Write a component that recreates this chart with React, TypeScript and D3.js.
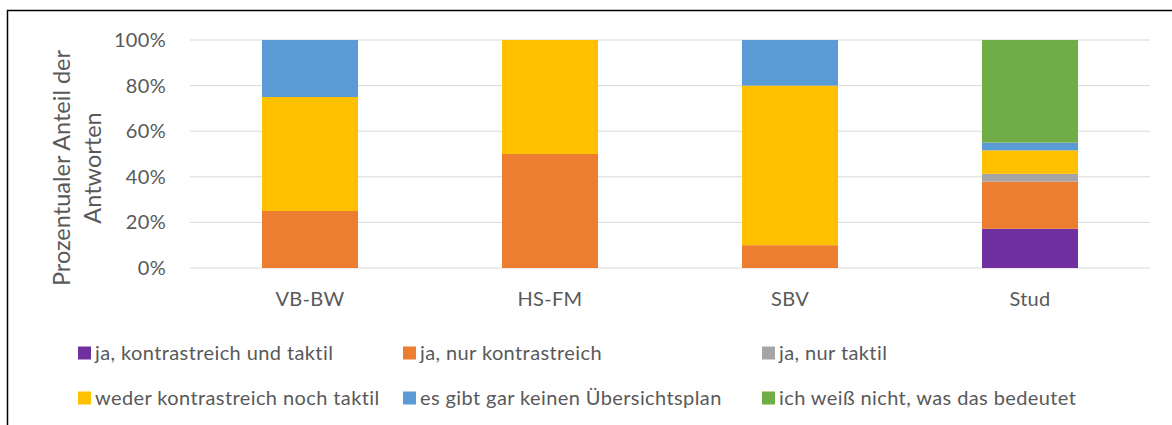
import * as d3 from 'd3'

const categories = ['VB-BW', 'HS-FM', 'SBV', 'Stud']
const seriesNames = [
  'ja, kontrastreich und taktil',
  'ja, nur kontrastreich',
  'ja, nur taktil',
  'weder kontrastreich noch taktil',
  'es gibt gar keinen Übersichtsplan',
  'ich weiß nicht, was das bedeutet',
]
const seriesColors = ['#7030A0', '#ED7D31', '#A5A5A5', '#FFC000', '#5B9BD5', '#70AD47']

// share of answers per category (percent), one array per series
const kontrastTaktil = [0, 0, 0, 17.2]
const nurKontrast = [25, 50, 10, 20.7]
const nurTaktil = [0, 0, 0, 3.4]
const weder = [50, 50, 70, 10.3]
const keinPlan = [25, 0, 20, 3.4]
const weissNicht = [0, 0, 0, 45]
const yTickValues = [0, 20, 40, 60, 80, 100]

type Row = { cat: string } & Record<string, number | string>

export default function App() {
  const width = 1172
  const height = 425
  const plot = { left: 190, right: 1150, top: 40, bottom: 268 }

  const seriesValues = [kontrastTaktil, nurKontrast, nurTaktil, weder, keinPlan, weissNicht]
  const rows: Row[] = categories.map((cat, i) => {
    const r: Row = { cat }
    seriesNames.forEach((s, j) => (r[s] = seriesValues[j][i]))
    return r
  })

  const stack = d3.stack<Row>().keys(seriesNames)
  const stacked = stack(rows)

  const xScale = d3.scaleBand().domain(categories).range([plot.left, plot.right]).paddingInner(0.6).paddingOuter(0.3)
  const yScale = d3.scaleLinear().domain([0, 100]).range([plot.bottom, plot.top])

  const textColor = '#595959'
  const font = "Lato, 'Open Sans', sans-serif"
  const fs = 20

  // legend layout: three columns, two rows
  const legendCols = [78, 403, 762]
  const legendRows = [353, 398]

  return (
    <svg
      width={width}
      height={height}
      style={{ position: 'absolute', left: 0, top: 0, background: '#fff' }}
      fontFamily={font}
    >
      <rect x={7.5} y={10.5} width={1200} height={500} fill="none" stroke="#000" strokeWidth={1.5} />
      <g className="grid">
        {yTickValues.map((t) => (
          <line key={t} x1={plot.left} x2={plot.right} y1={yScale(t)} y2={yScale(t)} stroke="#D9D9D9" strokeWidth={1} />
        ))}
      </g>
      <g className="y axis" textAnchor="end" fill={textColor} fontSize={fs} letterSpacing={0.3}>
        {yTickValues.map((t) => (
          <text key={t} x={166} y={yScale(t)} dy="0.35em">
            {t}%
          </text>
        ))}
      </g>
      <g className="bars">
        {stacked.map((s, j) => (
          <g key={s.key} fill={seriesColors[j]}>
            {s.map((d, i) =>
              d[1] - d[0] > 0 ? (
                <rect
                  key={i}
                  x={xScale(categories[i])}
                  width={xScale.bandwidth()}
                  y={yScale(d[1])}
                  height={yScale(d[0]) - yScale(d[1])}
                />
              ) : null,
            )}
          </g>
        ))}
      </g>
      <g className="x axis" textAnchor="middle" fill={textColor} fontSize={fs} letterSpacing={0.3}>
        {categories.map((c) => (
          <text key={c} x={xScale(c)! + xScale.bandwidth() / 2} y={306}>
            {c}
          </text>
        ))}
      </g>
      <g transform={`translate(0, ${(plot.top + plot.bottom) / 2 + 14}) rotate(-90)`} textAnchor="middle" fill={textColor} fontSize={23.5}>
        <text x={0} y={70}>
          Prozentualer Anteil der
        </text>
        <text x={0} y={101}>
          Antworten
        </text>
      </g>
      <g className="legend" fill={textColor} fontSize={fs} letterSpacing={0.4}>
        {seriesNames.map((s, j) => {
          const x = legendCols[j % 3]
          const y = legendRows[Math.floor(j / 3)]
          return (
            <g key={s} transform={`translate(${x}, ${y})`}>
              <rect x={0} y={-6.5} width={13} height={13} fill={seriesColors[j]} />
              <text x={17} dy="0.35em">
                {s}
              </text>
            </g>
          )
        })}
      </g>
    </svg>
  )
}
